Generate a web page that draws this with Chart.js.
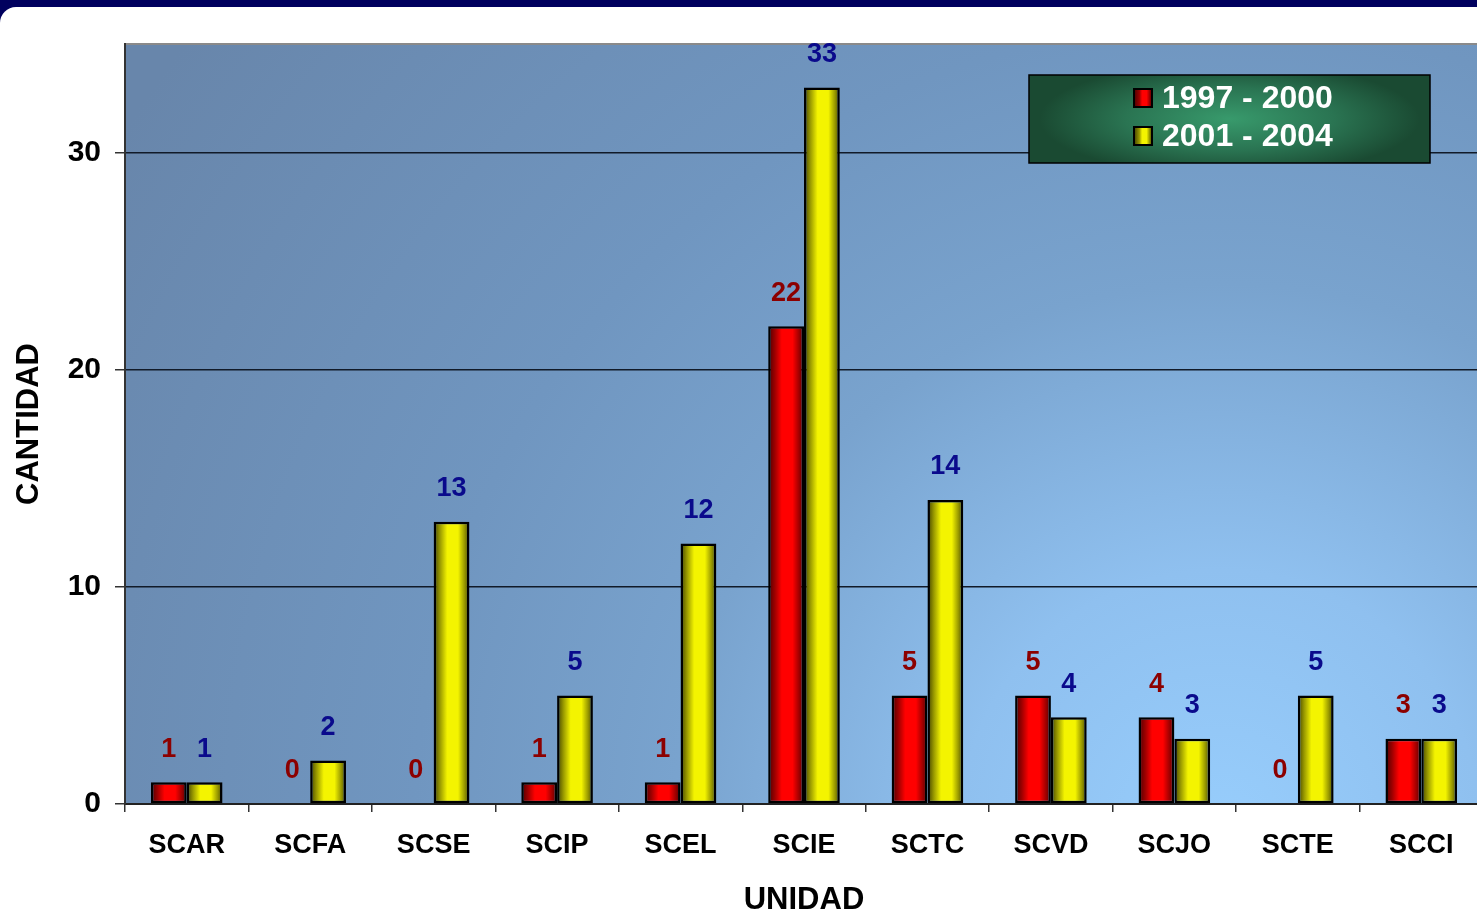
<!DOCTYPE html>
<html>
<head>
<meta charset="utf-8">
<script src="https://cdn.jsdelivr.net/npm/chart.js@4.4.1/dist/chart.umd.min.js"></script>
<style>
html, body { margin: 0; padding: 0; overflow: hidden; background: #00005e; width: 1477px; height: 917px; }
#page { position: absolute; left: 0; top: 7px; width: 1500px; height: 910px; background: #fff; border-top-left-radius: 16px; }
#wrap { position: absolute; left: 0; top: 0; width: 1500px; height: 917px; }
</style>
</head>
<body>
<div id="page"></div>
<div id="wrap"><canvas id="chart" width="1500" height="917"></canvas></div>
<script>
// datos
const unidades = ['SCAR', 'SCFA', 'SCSE', 'SCIP', 'SCEL', 'SCIE', 'SCTC', 'SCVD', 'SCJO', 'SCTE', 'SCCI'];
const periodos = ['1997 - 2000', '2001 - 2004'];
const valores9700 = [1, 0, 0, 1, 1, 22, 5, 5, 4, 0, 3];
const valores0104 = [1, 2, 13, 5, 12, 33, 14, 4, 3, 5, 3];
const yTicks = [0, 10, 20, 30];
const yMax = 35;

const FONT = 'Arial, "Liberation Sans", sans-serif';
const CAT_PCT = 0.58;

const rojo = ['#4a0000', '#9a0000', '#ff0000', '#ff0000', '#a00000', '#500000'];
const amarillo = ['#404000', '#9a9a00', '#f4f400', '#f4f400', '#9a9a00', '#484800'];

// sombreado tipo cilindro para cada barra
function sombreado(context, colores) {
    const chart = context.chart;
    const xs = chart.scales.x;
    if (!xs || context.dataIndex === undefined || !chart.chartArea) return colores[2];
    const w = xs.width / unidades.length * CAT_PCT / 2;
    const c = xs.getPixelForValue(context.dataIndex) + (context.datasetIndex === 0 ? -w / 2 : w / 2);
    const g = chart.ctx.createLinearGradient(c - w / 2, 0, c + w / 2, 0);
    g.addColorStop(0, colores[0]);
    g.addColorStop(0.18, colores[1]);
    g.addColorStop(0.38, colores[2]);
    g.addColorStop(0.68, colores[3]);
    g.addColorStop(0.86, colores[4]);
    g.addColorStop(1, colores[5]);
    return g;
}

// fondo degradado del area de trazado
const fondoPlugin = {
    id: 'fondo',
    beforeDraw(chart) {
        const { ctx, chartArea: a } = chart;
        ctx.save();
        const g = ctx.createRadialGradient(1220, 830, 0, 1220, 830, 1300);
        g.addColorStop(0, '#97cdfc');
        g.addColorStop(0.2, '#8fc0ef');
        g.addColorStop(0.42, '#79a3ce');
        g.addColorStop(0.62, '#7096c0');
        g.addColorStop(1, '#6886ab');
        ctx.fillStyle = g;
        ctx.fillRect(a.left, a.top, a.right - a.left + 20, a.bottom - a.top);
        ctx.strokeStyle = '#8a8a8a';
        ctx.lineWidth = 2;
        ctx.beginPath();
        ctx.moveTo(a.left, a.top);
        ctx.lineTo(a.right + 20, a.top);
        ctx.stroke();
        ctx.restore();
    }
};

// etiquetas de valor encima de las barras
const etiquetasPlugin = {
    id: 'etiquetas',
    afterDatasetsDraw(chart) {
        const ctx = chart.ctx;
        ctx.save();
        ctx.font = 'bold 27px ' + FONT;
        ctx.textAlign = 'center';
        ctx.textBaseline = 'middle';
        chart.data.datasets.forEach((ds, di) => {
            const meta = chart.getDatasetMeta(di);
            ctx.fillStyle = di === 0 ? '#8c0000' : '#0a0a8c';
            meta.data.forEach((bar, i) => {
                ctx.fillText(String(ds.data[i]), bar.x, bar.y - 33);
            });
        });
        ctx.restore();
    }
};

// leyenda verde
const leyendaPlugin = {
    id: 'leyendaVerde',
    afterDraw(chart) {
        const ctx = chart.ctx;
        const bx = 1029, by = 75, bw = 401, bh = 88;
        ctx.save();
        ctx.save();
        ctx.translate(bx + bw / 2, by + bh / 2);
        ctx.scale(1, 0.3);
        const g = ctx.createRadialGradient(0, 0, 0, 0, 0, 190);
        g.addColorStop(0, '#389a6c');
        g.addColorStop(0.55, '#2a7452');
        g.addColorStop(1, '#1a4a32');
        ctx.fillStyle = g;
        ctx.fillRect(-bw / 2, -bh / 2 / 0.3, bw, bh / 0.3);
        ctx.restore();
        ctx.strokeStyle = '#000';
        ctx.lineWidth = 1.5;
        ctx.strokeRect(bx, by, bw, bh);

        const colores = [rojo, amarillo];
        ctx.font = 'bold 32px ' + FONT;
        ctx.textBaseline = 'middle';
        ctx.textAlign = 'left';
        chart.data.datasets.forEach((ds, di) => {
            const cy = by + 23 + di * 38;
            const sx = 1134, sw = 18;
            const sg = ctx.createLinearGradient(sx, 0, sx + sw, 0);
            sg.addColorStop(0, colores[di][0]);
            sg.addColorStop(0.3, colores[di][1]);
            sg.addColorStop(0.45, colores[di][2]);
            sg.addColorStop(0.7, colores[di][3]);
            sg.addColorStop(1, colores[di][5]);
            ctx.fillStyle = sg;
            ctx.fillRect(sx, cy - 9, sw, 18);
            ctx.strokeStyle = '#000';
            ctx.lineWidth = 2;
            ctx.strokeRect(sx, cy - 9, sw, 18);
            ctx.fillStyle = '#ffffff';
            ctx.fillText(ds.label, 1162, cy + 1);
        });
        ctx.restore();
    }
};

const ctx = document.getElementById('chart').getContext('2d');
const chart = new Chart(ctx, {
    type: 'bar',
    data: {
        labels: unidades,
        datasets: [
            {
                label: periodos[0],
                data: valores9700,
                backgroundColor: (c) => sombreado(c, rojo),
                borderColor: '#000',
                borderWidth: 2.5,
                borderSkipped: false,
                categoryPercentage: CAT_PCT,
                barPercentage: 1
            },
            {
                label: periodos[1],
                data: valores0104,
                backgroundColor: (c) => sombreado(c, amarillo),
                borderColor: '#000',
                borderWidth: 2.5,
                borderSkipped: false,
                categoryPercentage: CAT_PCT,
                barPercentage: 1
            }
        ]
    },
    options: {
        responsive: false,
        animation: false,
        layout: { padding: { top: 44, right: 17, left: 0, bottom: 0 } },
        plugins: {
            legend: { display: false },
            tooltip: { enabled: false }
        },
        scales: {
            x: {
                grid: { offset: true, drawOnChartArea: false, tickLength: 8, color: '#333', lineWidth: 1.5 },
                border: { color: '#222', width: 2 },
                ticks: { color: '#000', font: { family: FONT, size: 27, weight: 'bold' }, padding: 17, maxRotation: 0 },
                title: { display: true, text: 'UNIDAD', color: '#000', font: { family: FONT, size: 31, weight: 'bold' }, padding: { top: 0, bottom: -2 } },
                afterFit: (s) => { s.height = 113; }
            },
            y: {
                min: 0,
                max: yMax,
                afterBuildTicks: (s) => { s.ticks = yTicks.map(v => ({ value: v })); },
                grid: { color: '#111a28', lineWidth: 1.5, tickLength: 10, tickColor: '#333' },
                border: { color: '#333', width: 2 },
                ticks: { color: '#000', font: { family: FONT, size: 30, weight: 'bold' }, padding: 14 },
                title: { display: true, text: 'CANTIDAD', color: '#000', font: { family: FONT, size: 31, weight: 'bold' }, padding: { top: 11, bottom: 0 } },
                afterFit: (s) => { s.width = 125; }
            }
        }
    },
    plugins: [fondoPlugin, etiquetasPlugin, leyendaPlugin]
});
</script>
</body>
</html>
